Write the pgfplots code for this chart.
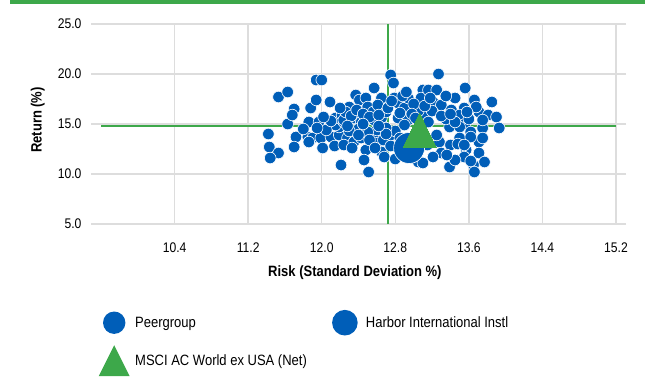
\documentclass[border=0pt]{standalone}
\usepackage{fontspec}
\setmainfont{Liberation Sans}[FakeStretch=0.87]
\usepackage{pgfplots}
\usepackage{pgfplotstable}
\pgfplotsset{compat=1.18}
\definecolor{peerblue}{RGB}{0,94,184}
\definecolor{mgreen}{RGB}{61,168,74}
\definecolor{gridgray}{RGB}{221,221,221}

\pgfplotstableread{
x y
11.42 14.0
11.43 12.7
11.53 12.1
11.44 11.6
11.53 17.7
11.63 18.2
11.63 15.0
11.70 16.5
11.68 15.9
11.72 13.7
11.70 12.7
11.85 13.7
11.90 13.6
11.86 13.2
11.86 15.2
11.97 15.2
11.88 16.6
11.94 17.4
11.94 19.4
12.00 19.4
12.09 17.2
11.99 13.6
12.01 12.6
12.10 13.7
12.19 13.9
12.14 12.8
12.21 10.9
12.19 14.7
12.15 14.9
12.15 15.6
12.22 15.9
12.24 15.2
12.24 15.4
12.28 13.6
12.24 12.9
12.35 13.2
12.43 13.6
12.48 12.4
12.46 11.4
12.51 10.2
12.57 13.7
12.61 13.1
12.67 13.4
12.65 12.2
12.68 11.7
12.75 13.9
12.30 16.7
12.26 16.2
12.37 17.9
12.41 17.4
12.48 17.6
12.57 18.6
12.65 17.6
12.50 16.7
12.56 16.2
12.61 16.9
12.35 15.6
12.43 15.2
12.57 15.4
12.65 15.6
12.75 19.9
12.78 19.1
12.79 17.6
12.83 17.1
12.90 16.6
12.94 17.6
13.10 18.4
13.08 17.6
12.83 15.6
12.94 15.4
13.14 15.9
13.27 20.0
13.16 18.4
13.25 18.4
13.56 18.6
13.45 17.6
13.66 17.4
13.85 17.2
13.21 17.2
13.30 16.9
13.41 16.4
13.55 16.6
13.50 15.9
13.71 16.2
13.81 15.9
13.90 15.7
13.68 16.7
13.16 15.2
13.39 14.7
13.56 15.0
13.93 14.6
13.28 13.2
13.25 13.9
13.50 14.7
13.50 13.6
13.30 12.1
13.21 11.7
13.39 10.7
13.57 12.4
13.55 11.7
13.71 13.2
13.71 12.1
13.77 11.2
13.65 10.9
13.66 10.2
13.05 11.2
13.10 11.1
12.80 14.3
12.85 13.6
12.90 14.9
12.70 14.6
12.60 14.4
12.50 14.2
12.40 14.5
12.30 14.3
12.05 14.4
11.95 14.6
11.80 14.5
12.85 12.4
12.80 11.5
12.90 11.9
13.00 13.2
13.10 13.5
13.15 12.9
13.05 16.3
13.00 17.0
12.70 16.2
12.85 16.1
13.20 16.3
13.35 15.5
13.45 15.2
13.60 15.5
13.62 14.2
13.75 14.6
13.40 12.9
13.45 11.4
12.20 16.6
12.32 15.8
12.38 16.4
12.45 16.0
12.52 15.7
12.62 15.9
12.72 16.6
12.76 17.3
12.88 17.8
12.92 18.2
12.98 16.0
13.02 15.6
13.12 16.8
13.18 17.6
13.35 17.8
12.40 13.9
12.52 13.4
12.33 12.6
12.58 12.6
12.75 12.8
12.70 14.0
12.62 14.8
12.45 15.0
12.28 14.8
12.10 15.3
12.02 15.7
13.30 15.8
13.40 16.0
13.58 16.2
13.75 15.4
13.62 13.7
13.48 13.0
13.55 12.9
13.36 11.9
13.62 11.3
13.75 13.6
}\peerdata

\begin{document}
\begin{tikzpicture}
\fill[mgreen] (10bp,0bp) rectangle (645bp,-4bp);
\begin{axis}[
  at={(101bp,-224bp)}, anchor=south west,
  scale only axis, width=515bp, height=200bp,
  xmin=9.6, xmax=15.2, ymin=5, ymax=25,
  xtick={10.4,11.2,12.0,12.8,13.6,14.4,15.2},
  ytick={5,10,15,20,25},
  axis line style={draw=none},
  grid=major, major grid style={draw=gridgray, line width=1.3bp},
  tick align=outside, major tick length=10bp,
  xtick style={draw=none},
  ytick style={draw=gridgray, line width=1.3bp},
  tick label style={font=\fontsize{14}{16}\selectfont,
    /pgf/number format/fixed, /pgf/number format/fixed zerofill,
    /pgf/number format/precision=1, /pgf/number format/assume math mode=true},
  yticklabel style={xshift=-6bp},
  xticklabel style={yshift=-5bp},
  xlabel={Risk (Standard Deviation \%)},
  ylabel={Return (\%)},
  label style={font=\bfseries\fontsize{15}{18}\selectfont},
  xlabel style={at={(axis description cs:0.493,-0.245)}, anchor=center},
  ylabel style={at={(axis description cs:-0.123,0.52)}, anchor=center},
  legend columns=2,
  legend style={draw=none, fill=none, inner sep=0pt,
    at={(axis description cs:-0.0058,-0.4125)}, anchor=north west,
    row sep=6bp, font=\fontsize{15}{18}\selectfont, cells={anchor=west},
    /tikz/every odd column/.append style={column sep=3bp},
    /tikz/every even column/.append style={column sep=20bp}},
  legend entries={Peergroup, Harbor International Instl, MSCI AC World ex USA (Net)},
]
\addplot[only marks, mark=*, mark size=5.8bp,
  mark options={fill=peerblue, draw=white, line width=0.6bp},
  legend image code/.code={\path[draw=none, fill=none] (0bp,-16bp) rectangle (32bp,16bp);
    \fill[peerblue, draw=none] (16bp,0bp) circle (11.2bp);}]
  table[x=x, y=y] {\peerdata};
\addplot[only marks, mark=*, mark size=15.5bp,
  mark options={fill=peerblue, draw=white, line width=0.6bp},
  legend image code/.code={\path[draw=none, fill=none] (0bp,-16bp) rectangle (32bp,16bp);
    \fill[peerblue, draw=none] (16bp,0bp) circle (12.8bp);}]
  coordinates {(12.95,12.6)};
\addplot[forget plot, mgreen, line width=1.8bp] coordinates {(12.72,5) (12.72,25)};
\addplot[forget plot, mgreen, line width=1.8bp] coordinates {(9.6,14.8) (15.2,14.8)};
\addplot[only marks, mark=triangle*, mark size=19bp,
  mark options={fill=mgreen, draw=mgreen, line width=0pt, yscale=1.2},
  legend image code/.code={\path[draw=none, fill=none] (0bp,-16bp) rectangle (32bp,16bp);
    \fill[mgreen, draw=none] (0.5bp,-15.5bp) -- (31.5bp,-15.5bp) -- (16bp,15.5bp) -- cycle;}]
  coordinates {(13.065,13.82)};
\end{axis}
\pgfresetboundingbox
\useasboundingbox (0bp,0bp) rectangle (645bp,-378bp);
\end{tikzpicture}
\end{document}
